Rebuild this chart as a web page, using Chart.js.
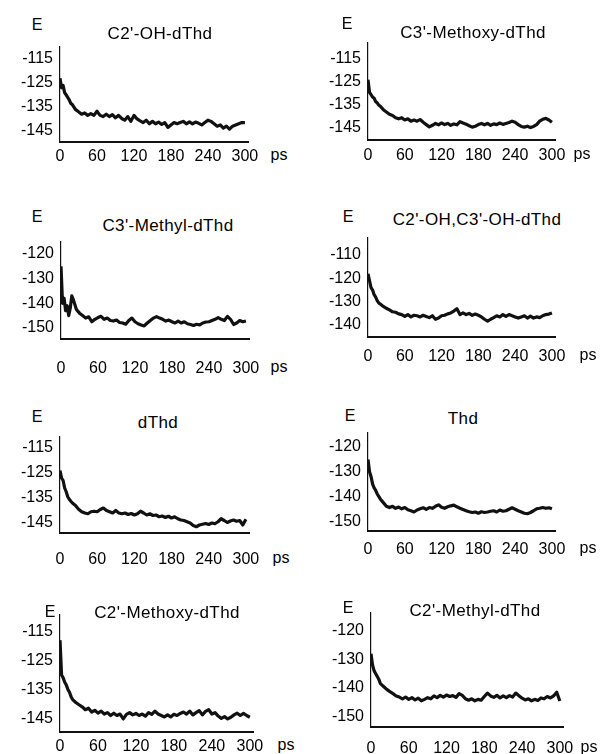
<!DOCTYPE html>
<html><head><meta charset="utf-8">
<script src="https://cdn.jsdelivr.net/npm/chart.js@4.4.0/dist/chart.umd.min.js"></script>
<style>
body{margin:0;background:#fff;width:600px;height:754px;position:relative;overflow:hidden;font-family:"Liberation Sans",Arial,sans-serif;color:#000}
canvas{position:absolute}
.lbl{position:absolute;white-space:nowrap;transform:translate(-50%,-50%);font-size:16px;line-height:1;color:#000}
.ttl{font-size:17px;letter-spacing:0.4px}
</style></head><body>
<script>
// time axis (ps)
const TIME = [0,2.5,5,7.5,10,12.5,15,17.5,20,
 25,30,35,40,45,50,55,60,65,70,75,80,85,90,95,100,105,110,115,120,
 125,130,135,140,145,150,155,160,165,170,175,180,185,190,195,200,205,210,215,220,
 225,230,235,240,245,250,255,260,265,270,275,280,285,290,295,300];
const X_TICKS = [0,60,120,180,240,300];

const TITLES = ["C2'-OH-dThd","C3'-Methoxy-dThd","C3'-Methyl-dThd","C2'-OH,C3'-OH-dThd","dThd","Thd","C2'-Methoxy-dThd","C2'-Methyl-dThd"];

const Y_TICKS_A = [-115,-125,-135,-145];
const Y_TICKS_B = [-120,-130,-140,-150];
const Y_TICKS_C = [-110,-120,-130,-140];

const E_C2OH = [-123,-127,-126,-129,-130,-131,-132,-133.5,-134,
 -136,-137,-138,-137.5,-138.5,-137.8,-138.5,-136.8,-138.5,-139,-138,-139,-138.2,-139.5,-138.5,-139.8,-140.5,-139,-141,-138.5,
 -140,-140.8,-141.5,-140.5,-142,-141,-142,-141.3,-142.3,-141.5,-143.5,-142.5,-141.5,-142,-141.5,-141,-142,-141.2,-142,-141.3,
 -141.8,-142.5,-141.5,-140.5,-141,-142,-143,-142.5,-143.8,-143,-144.2,-143,-142.5,-142,-141.5,-141.5];

const E_C3OME = [-124,-129.5,-130.5,-131.5,-132,-133.5,-134,-135,-135.5,
 -137,-138,-139,-139.5,-140.5,-141,-140.5,-141.5,-141,-142,-141.5,-142,-141.3,-142.5,-143.5,-144.5,-143.8,-143,-143.6,-142.8,
 -143.5,-143,-143.8,-143.2,-143.6,-142.2,-142.8,-143.3,-144,-144.6,-144.2,-143.5,-143,-143.6,-143,-143.8,-143.2,-143.5,-142.8,-143.4,
 -143,-142.6,-142,-142.5,-143.5,-144.3,-144.6,-144.2,-144.8,-144.3,-143.5,-142,-141.2,-140.8,-141.5,-142.5];

const E_C3ME = [-125,-140,-138,-143,-141,-145,-142,-137,-138.5,
 -142.5,-144,-145,-146,-145.5,-147.5,-146.5,-145.8,-145.3,-146.5,-146,-147,-147.2,-146.8,-147.8,-148,-148.5,-147,-146,-147.5,
 -148.3,-148.8,-149.2,-148,-147,-146,-145.4,-146,-146.5,-147.2,-146.8,-147.5,-148,-147.2,-148,-147.5,-148.3,-148.6,-149,-148.5,
 -148.8,-148,-147.6,-147.5,-147,-146.5,-145.8,-146.5,-147,-145.3,-146.5,-148.6,-148,-147,-147.5,-147.2];

const E_C2OH_C3OH = [-118,-121,-124,-125,-127,-128,-129.5,-130.5,-131,
 -132,-132.8,-133.5,-134.3,-134.5,-135.2,-135.5,-136.3,-135.5,-136.5,-135.8,-136,-136.5,-135.8,-136.3,-136.8,-136,-137.5,-137,-136,
 -135.8,-135.2,-134.8,-134,-133,-135.5,-134.8,-135.5,-135,-135.8,-135.3,-135.8,-136.5,-137.5,-138.3,-137.5,-136.8,-136,-136.5,-135.5,
 -136.3,-135.5,-136,-136.5,-137,-136.5,-136,-137,-136.2,-137,-136.5,-136.8,-136,-135.5,-135.3,-134.8];

const E_DTHD = [-124,-127,-128,-131,-132.5,-134.5,-135.5,-136.3,-137,
 -138,-139.5,-140.5,-141,-141.3,-140.5,-140.3,-140.5,-139.6,-139,-140,-140.5,-141,-140,-141,-141.3,-141,-141.6,-141.2,-141.8,
 -141.3,-140.3,-141,-141.8,-141.3,-142,-141.8,-142.5,-142.2,-142.8,-142.3,-143,-142.5,-143.3,-143.8,-144,-144.5,-145,-146,-146.5,
 -145.8,-145.5,-145.2,-145.6,-145,-145.3,-144.5,-143.3,-144,-144.8,-144.2,-143.8,-144.3,-144,-145.8,-143.5];

const E_THD = [-125,-130,-132,-135,-136.5,-137.5,-139,-140,-141,
 -142.5,-144,-144.5,-144,-144.8,-144.3,-145,-144.5,-145.4,-145.8,-146.3,-145.5,-145,-144.6,-145.2,-144.5,-144.8,-144,-143.4,-144.4,
 -144.8,-144.2,-143.8,-143.5,-144.2,-144.8,-145.3,-145.8,-146.2,-146.5,-146.3,-146.8,-146.2,-146.5,-146.3,-146,-145.8,-146.3,-145.5,-146,
 -145.8,-145.2,-144.6,-145.2,-145.8,-146.3,-146.8,-147,-146.5,-145.8,-145,-144.8,-144.5,-144.8,-144.6,-145];

const E_C2OME = [-118,-130,-131,-132.5,-133.5,-135,-136,-137.5,-138.5,
 -139.5,-140.3,-141,-142,-141.5,-142.8,-142.2,-143.2,-142.5,-143.5,-143,-144,-143.2,-144,-143.5,-145.2,-143.6,-143,-143.8,-143.3,
 -144,-143.5,-144.2,-143,-143.6,-142.5,-143.5,-144,-144.5,-143.8,-144.5,-143.6,-144,-143.3,-142.8,-143.5,-142.5,-143.8,-143,-142.3,
 -143.8,-142.6,-142,-143.5,-143,-144.2,-145,-144.4,-145.2,-144.6,-143.8,-143.2,-144,-143.3,-144,-144.6];

const E_C2ME = [-128,-132,-134,-135,-136,-137,-138.5,-139,-139.5,
 -140.5,-141.3,-142,-142.8,-143.2,-143.8,-143.2,-144,-143.4,-144.2,-143.6,-144.5,-144,-143.4,-143.8,-142.8,-143.4,-142.6,-143.2,-142.5,
 -143,-142.7,-143.3,-142,-142.6,-143.8,-144.3,-143.8,-144.5,-144,-144.3,-143,-141.8,-142.8,-143.3,-142.6,-143.5,-142.8,-143.4,-142.7,
 -143.2,-141.8,-142.7,-143.6,-144.2,-143.8,-144.5,-144,-144.4,-143.5,-143.8,-143,-143.5,-142.8,-141.5,-144.6];

const SERIES = [E_C2OH,E_C3OME,E_C3ME,E_C2OH_C3OH,E_DTHD,E_THD,E_C2OME,E_C2ME];
const YTICKS = [Y_TICKS_A,Y_TICKS_A,Y_TICKS_B,Y_TICKS_C,Y_TICKS_A,Y_TICKS_B,Y_TICKS_A,Y_TICKS_B];
const YMIN = [-149.6,-150.2,-154.5,-145.1,-149,-154,-149.7,-153.7];
const YMAX = [-110,-108,-115.1,-102.7,-110.6,-114.3,-109.3,-113.7];

// layout (pixel placement only)
const RECT = [[60,248,47,142],[368,555,43,140],[61,249,242,339],[368,555,238,337],
              [60,249,437,533],[368,555,433,531],[60,253,615,732],[371,563,613,727]];
const XLAB_GAP = [13,14,28,18,25,17,13,20];
const E_POS = [[37,25],[347,24],[37,217],[348,217],[37,417],[350,416],[50,612],[348,608]];
const T_POS = [[160,33],[473,32],[168,225],[477,219],[158,422],[463,418],[167,612],[475,610]];
const PS_POS = [[279,155],[582,154],[279,367],[588,355],[281,558],[588,548],[286,745],[589,747]];

const FONT = '"Liberation Sans", Arial, sans-serif';
const PADL = 55, PADB = 40, PADT = 5, PADR = 20;

function addLabel(text, pos, cls){
  const d = document.createElement('div');
  d.className = 'lbl' + (cls ? ' ' + cls : '');
  d.textContent = text;
  d.style.left = pos[0] + 'px';
  d.style.top = pos[1] + 'px';
  document.body.appendChild(d);
}
function zeroPad(s){ s.paddingLeft = 0; s.paddingRight = 0; s.paddingTop = 0; s.paddingBottom = 0; }

for (let i = 0; i < 8; i++) {
  const [L, R, T, B] = RECT[i];
  const cv = document.createElement('canvas');
  const w = R - L + PADL + PADR, h = B - T + PADT + PADB;
  cv.width = w; cv.height = h;
  cv.style.left = (L - PADL) + 'px';
  cv.style.top = (T - PADT) + 'px';
  cv.style.width = w + 'px'; cv.style.height = h + 'px';
  document.body.appendChild(cv);
  const pts = TIME.map((t, k) => ({x: t, y: SERIES[i][k]}));
  const yt = YTICKS[i];
  new Chart(cv.getContext('2d'), {
    type: 'line',
    data: {datasets: [{data: pts, borderColor: '#111', borderWidth: 3.2, pointRadius: 0, tension: 0, fill: false, borderJoinStyle: 'round'}]},
    options: {
      responsive: false, animation: false, devicePixelRatio: 1,
      layout: {padding: {top: PADT, right: PADR, left: 0, bottom: 0}, autoPadding: false},
      plugins: {legend: {display: false}, tooltip: {enabled: false}},
      scales: {
        x: {type: 'linear', min: 0, max: 305,
            grid: {display: false, drawTicks: false},
            border: {display: true, color: '#111', width: 2},
            ticks: {color: '#000', font: {family: FONT, size: 16}, padding: XLAB_GAP[i] - 8,
                    maxRotation: 0, autoSkip: false, callback: v => String(v)},
            afterBuildTicks: a => { a.ticks = X_TICKS.map(v => ({value: v})); },
            afterFit: s => { s.height = PADB; zeroPad(s); }},
        y: {type: 'linear', min: YMIN[i], max: YMAX[i],
            grid: {display: false, drawTicks: false},
            border: {display: true, color: '#111', width: 1.2},
            ticks: {color: '#000', font: {family: FONT, size: 16}, padding: 7, autoSkip: false,
                    callback: v => String(v)},
            afterBuildTicks: a => { a.ticks = yt.map(v => ({value: v})); },
            afterFit: s => { s.width = PADL; zeroPad(s); }}
      }
    }
  });
  addLabel('E', E_POS[i]);
  addLabel(TITLES[i], T_POS[i], 'ttl');
  addLabel('ps', PS_POS[i]);
}
</script>
</body></html>
